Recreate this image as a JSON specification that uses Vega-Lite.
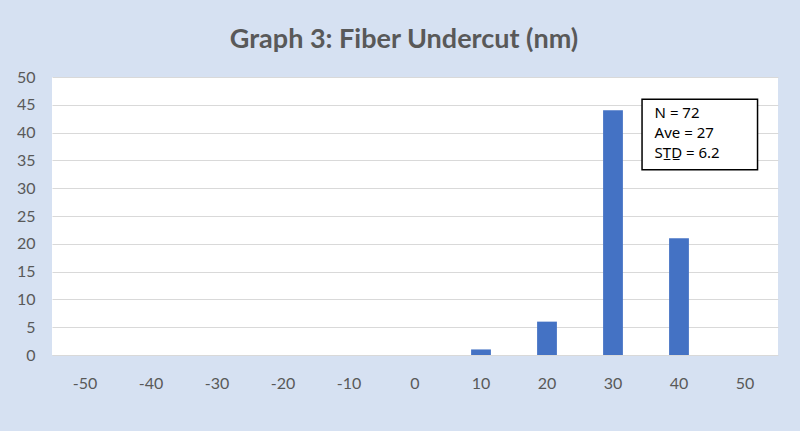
{
  "$schema": "https://vega.github.io/schema/vega-lite/v6.json",
  "width": 726,
  "height": 278,
  "autosize": {"type": "none"},
  "padding": {"left": 52, "top": 77, "right": 22, "bottom": 76},
  "background": "#d6e1f2",
  "config": {"view": {"stroke": null, "fill": "#ffffff"}, "font": "Lato"},
  "title": {
    "text": "Graph 3: Fiber Undercut (nm)",
    "fontSize": 27,
    "fontWeight": "bold",
    "color": "#595959",
    "anchor": "middle",
    "offset": 15,
    "dx": -11
  },
  "resolve": {"scale": {"x": "independent"}},
  "layer": [
    {
      "data": {
        "values": [
          {"bin": -50, "count": 0},
          {"bin": -40, "count": 0},
          {"bin": -30, "count": 0},
          {"bin": -20, "count": 0},
          {"bin": -10, "count": 0},
          {"bin": 0, "count": 0},
          {"bin": 10, "count": 1},
          {"bin": 20, "count": 6},
          {"bin": 30, "count": 44},
          {"bin": 40, "count": 21},
          {"bin": 50, "count": 0}
        ]
      },
      "mark": {"type": "bar", "color": "#4472c4"},
      "encoding": {
        "x": {
          "field": "bin",
          "type": "ordinal",
          "scale": {"paddingInner": 0.7, "paddingOuter": 0.35},
          "axis": {
            "title": null,
            "labelAngle": 0,
            "ticks": false,
            "domain": false,
            "grid": false,
            "labelPadding": 20,
            "labelFontSize": 16,
            "labelColor": "#595959"
          }
        },
        "y": {
          "field": "count",
          "type": "quantitative",
          "scale": {"domain": [0, 50], "nice": false},
          "axis": {
            "title": null,
            "values": [0, 5, 10, 15, 20, 25, 30, 35, 40, 45, 50],
            "labelOverlap": false,
            "grid": true,
            "gridColor": "#d9d9d9",
            "ticks": false,
            "domain": false,
            "labelPadding": 17,
            "labelFontSize": 16,
            "labelColor": "#595959"
          }
        }
      }
    },
    {
      "data": {"values": [{"x0": 34.4, "x1": 51.9, "y0": 46, "y1": 33.3, "tx": 36.3, "ty": 44.8}]},
      "layer": [
        {
          "mark": {"type": "rect", "fill": "#ffffff", "stroke": "#000000", "strokeWidth": 1.5},
          "encoding": {
            "x": {"field": "x0", "type": "quantitative", "scale": {"domain": [-55, 55], "nice": false, "zero": false}, "axis": null},
            "x2": {"field": "x1"},
            "y": {
              "field": "y0",
              "type": "quantitative",
              "axis": {
                "title": null,
                "values": [0, 5, 10, 15, 20, 25, 30, 35, 40, 45, 50],
                "labelOverlap": false,
                "grid": true,
                "gridColor": "#d9d9d9",
                "ticks": false,
                "domain": false,
                "labelPadding": 17,
                "labelFontSize": 16,
                "labelColor": "#595959"
              }
            },
            "y2": {"field": "y1"}
          }
        },
        {
          "mark": {
            "type": "text",
            "text": ["N = 72", "Ave = 27", "ST\u0332D\u0332 = 6.2"],
            "font": "Noto Sans",
            "align": "left",
            "baseline": "top",
            "fontSize": 15,
            "lineHeight": 20,
            "color": "#000000"
          },
          "encoding": {
            "x": {"field": "tx", "type": "quantitative", "scale": {"domain": [-55, 55], "nice": false, "zero": false}, "axis": null},
            "y": {
              "field": "ty",
              "type": "quantitative",
              "axis": {
                "title": null,
                "values": [0, 5, 10, 15, 20, 25, 30, 35, 40, 45, 50],
                "labelOverlap": false,
                "grid": true,
                "gridColor": "#d9d9d9",
                "ticks": false,
                "domain": false,
                "labelPadding": 17,
                "labelFontSize": 16,
                "labelColor": "#595959"
              }
            }
          }
        }
      ]
    }
  ]
}
